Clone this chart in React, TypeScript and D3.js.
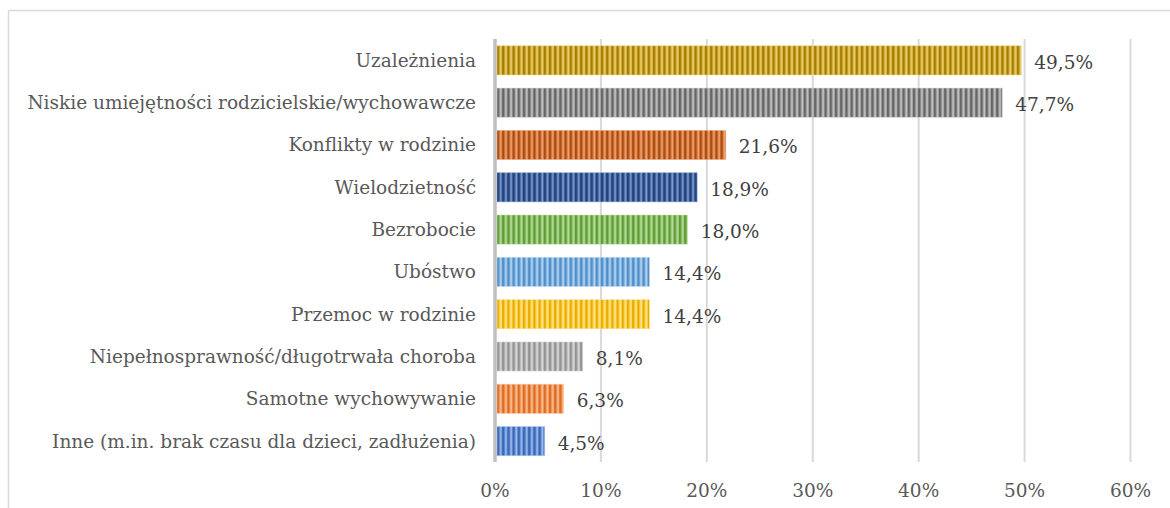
import React from "react";
import * as d3 from "d3";

// categories top -> bottom
const categories = [
  "Uzależnienia",
  "Niskie umiejętności rodzicielskie/wychowawcze",
  "Konflikty w rodzinie",
  "Wielodzietność",
  "Bezrobocie",
  "Ubóstwo",
  "Przemoc w rodzinie",
  "Niepełnosprawność/długotrwała choroba",
  "Samotne wychowywanie",
  "Inne (m.in. brak czasu dla dzieci, zadłużenia)",
];
const values = [49.5, 47.7, 21.6, 18.9, 18.0, 14.4, 14.4, 8.1, 6.3, 4.5];
const ticks = [0, 10, 20, 30, 40, 50, 60];

// [dark stripe, base, highlight]
const barColors: [string, string, string][] = [
  ["#a37c00", "#c9a227", "#f0d67c"],
  ["#666666", "#8c8c8c", "#cdcdcd"],
  ["#ab4d10", "#d06d2e", "#f0ab80"],
  ["#23417a", "#3a5c98", "#8aa6d6"],
  ["#609b3a", "#80b957", "#c3e2ab"],
  ["#5090ca", "#74a9dc", "#c0daf2"],
  ["#e6ad00", "#ffc72e", "#ffe9a0"],
  ["#939393", "#afafaf", "#e0e0e0"],
  ["#dc6e24", "#f18d4a", "#fac6a2"],
  ["#3a67b8", "#5584cf", "#adc5ec"],
];

const W = 1170;
const H = 508;
const margin = { top: 39, right: 40, bottom: 46, left: 495 };
const font = "'DejaVu Serif', Georgia, serif";
const fs = 18.5;

const fmt = (v: number) => v.toFixed(1).replace(".", ",") + "%";

export default function App() {
  const x = d3.scaleLinear().domain([0, 60]).range([margin.left, 1130.5]);
  const y = d3
    .scaleBand<string>()
    .domain(categories)
    .range([margin.top, H - margin.bottom + 0.5])
    .paddingInner(0.31)
    .paddingOuter(0.16);
  const bh = y.bandwidth();

  return (
    <svg
      width={W}
      height={H}
      style={{ position: "absolute", left: 0, top: 0, background: "#fff" }}
    >
      <defs>
        {barColors.map((c, i) => (
          <React.Fragment key={i}>
            <linearGradient id={`g${i}`} x1="0" x2="1" y1="0" y2="0">
              <stop offset="0" stopColor={c[0]} />
              <stop offset="0.25" stopColor={c[0]} />
              <stop offset="0.45" stopColor={c[1]} />
              <stop offset="0.7" stopColor={c[2]} />
              <stop offset="1" stopColor={c[1]} />
            </linearGradient>
            <pattern
              id={`p${i}`}
              width={5.2}
              height={10}
              patternUnits="userSpaceOnUse"
              x={497}
            >
              <rect width={5.2} height={10} fill={`url(#g${i})`} />
            </pattern>
          </React.Fragment>
        ))}
      </defs>

      <rect
        x={8.5}
        y={10.5}
        width={1170}
        height={520}
        fill="none"
        stroke="#d9d9d9"
        strokeWidth={1.5}
      />

      {/* gridlines */}
      {ticks.slice(1).map((t) => (
        <line
          key={t}
          x1={x(t)}
          x2={x(t)}
          y1={margin.top}
          y2={H - margin.bottom}
          stroke="#d9d9d9"
          strokeWidth={2}
        />
      ))}

      {/* bars */}
      {categories.map((c, i) => (
        <rect
          key={c}
          x={x(0) + 2}
          y={y(c)}
          width={x(values[i]) - x(0)}
          height={bh}
          fill={`url(#p${i})`}
          stroke={barColors[i][2]}
          strokeOpacity={0.6}
          strokeWidth={0.8}
        />
      ))}

      {/* axis line */}
      <line
        x1={x(0)}
        x2={x(0)}
        y1={margin.top}
        y2={H - margin.bottom}
        stroke="#bfbfbf"
        strokeWidth={3.5}
      />

      {/* category labels */}
      {categories.map((c) => (
        <text
          key={c}
          x={476}
          y={(y(c) as number) + bh / 2}
          dy="0.35em"
          textAnchor="end"
          fontFamily={font}
          fontSize={fs}
          fill="#595959"
        >
          {c}
        </text>
      ))}

      {/* value labels */}
      {categories.map((c, i) => (
        <text
          key={c}
          x={x(values[i]) + 15}
          y={(y(c) as number) + bh / 2 + 2}
          dy="0.35em"
          fontFamily={font}
          fontSize={fs}
          fill="#404040"
        >
          {fmt(values[i])}
        </text>
      ))}

      {/* tick labels */}
      {ticks.map((t) => (
        <text
          key={t}
          x={x(t)}
          y={497}
          textAnchor="middle"
          fontFamily={font}
          fontSize={fs}
          fill="#595959"
        >
          {t + "%"}
        </text>
      ))}
    </svg>
  );
}
